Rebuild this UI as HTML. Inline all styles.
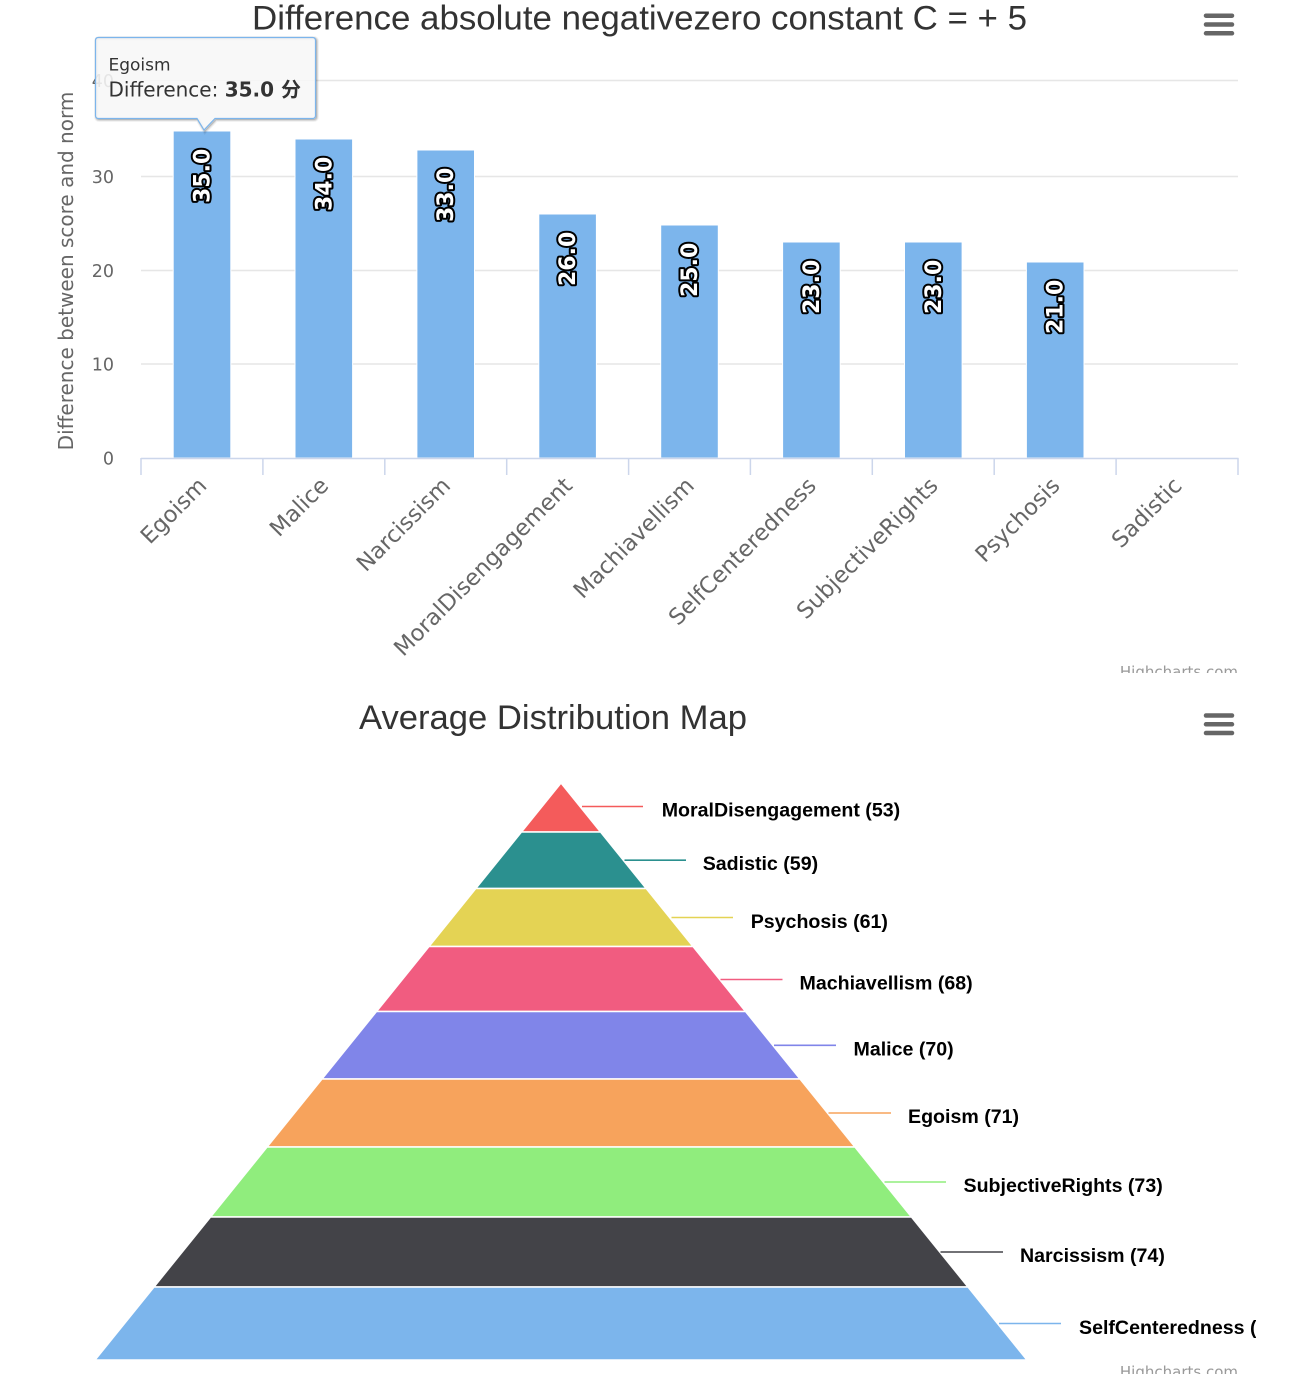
<!DOCTYPE html>
<html>
<head>
<meta charset="utf-8">
<style>
  html, body { margin: 0; padding: 0; background: #fff; }
  body { width: 1305px; height: 1374px; overflow: hidden; }
  svg { display: block; }
  .dv { font-family: "DejaVu Sans", "Liberation Sans", "Noto Sans CJK SC", sans-serif; }
  .lb { font-family: "Liberation Sans", "DejaVu Sans", sans-serif; }
</style>
</head>
<body>
<svg width="1305" height="1374" viewBox="0 0 1305 1374" xmlns="http://www.w3.org/2000/svg">
  <defs>
    <clipPath id="c2"><rect x="0" y="680" width="1256" height="700"/></clipPath>
  </defs>

  <!-- ============ CHART 1 ============ -->
  <text class="lb" x="639.5" y="29.5" text-anchor="middle" font-size="34.5" fill="#333333" textLength="775" lengthAdjust="spacingAndGlyphs">Difference absolute negativezero constant C = + 5</text>

  <!-- menu icon -->
  <g stroke="#666666" stroke-width="4.5" stroke-linecap="round">
    <line x1="1206" y1="15.7" x2="1232" y2="15.7"/>
    <line x1="1206" y1="24.5" x2="1232" y2="24.5"/>
    <line x1="1206" y1="33.3" x2="1232" y2="33.3"/>
  </g>

  <!-- gridlines -->
  <g stroke="#e6e6e6" stroke-width="1.5">
    <line x1="141" y1="80.5" x2="1238" y2="80.5"/>
    <line x1="141" y1="176.5" x2="1238" y2="176.5"/>
    <line x1="141" y1="270.5" x2="1238" y2="270.5"/>
    <line x1="141" y1="364" x2="1238" y2="364"/>
  </g>

  <!-- y tick labels -->
  <g class="dv" font-size="17.5" fill="#666666" text-anchor="end">
    <text x="114" y="87">40</text>
    <text x="114" y="183">30</text>
    <text x="114" y="277">20</text>
    <text x="114" y="370.5">10</text>
    <text x="114" y="464.5">0</text>
  </g>

  <!-- y axis title -->
  <text class="dv" transform="translate(73 271) rotate(-90)" x="0" y="0" text-anchor="middle" font-size="20" fill="#666666">Difference between score and norm</text>

  <!-- bars -->
  <g fill="#7cb5ec" stroke="#ffffff" stroke-width="1">
    <rect x="173.2" y="131" width="57.6" height="327"/>
    <rect x="295" y="139" width="57.6" height="319"/>
    <rect x="416.9" y="150" width="57.6" height="308"/>
    <rect x="538.8" y="214" width="57.6" height="244"/>
    <rect x="660.7" y="225" width="57.6" height="233"/>
    <rect x="782.6" y="242" width="57.6" height="216"/>
    <rect x="904.5" y="242" width="57.6" height="216"/>
    <rect x="1026.4" y="262" width="57.6" height="196"/>
  </g>

  <!-- data labels -->
  <g class="dv" font-size="22" font-weight="bold" fill="#ffffff" stroke="#000000" stroke-width="4" stroke-linejoin="round" paint-order="stroke" text-anchor="start">
    <text transform="translate(209.5 203) rotate(-90)">35.0</text>
    <text transform="translate(331.3 211) rotate(-90)">34.0</text>
    <text transform="translate(453.2 222) rotate(-90)">33.0</text>
    <text transform="translate(575.1 286) rotate(-90)">26.0</text>
    <text transform="translate(697 297) rotate(-90)">25.0</text>
    <text transform="translate(818.9 314) rotate(-90)">23.0</text>
    <text transform="translate(940.8 314) rotate(-90)">23.0</text>
    <text transform="translate(1062.7 334) rotate(-90)">21.0</text>
  </g>

  <!-- x axis -->
  <g stroke="#ccd6eb" stroke-width="1.5">
    <line x1="141" y1="458.5" x2="1238.5" y2="458.5"/>
    <line x1="141" y1="458" x2="141" y2="475"/>
    <line x1="262.9" y1="458" x2="262.9" y2="475"/>
    <line x1="384.8" y1="458" x2="384.8" y2="475"/>
    <line x1="506.7" y1="458" x2="506.7" y2="475"/>
    <line x1="628.6" y1="458" x2="628.6" y2="475"/>
    <line x1="750.4" y1="458" x2="750.4" y2="475"/>
    <line x1="872.3" y1="458" x2="872.3" y2="475"/>
    <line x1="994.2" y1="458" x2="994.2" y2="475"/>
    <line x1="1116.1" y1="458" x2="1116.1" y2="475"/>
    <line x1="1238" y1="458" x2="1238" y2="475"/>
  </g>

  <!-- x labels -->
  <g class="dv" font-size="22.5" fill="#666666" text-anchor="end">
    <text transform="translate(208 487) rotate(-45)">Egoism</text>
    <text transform="translate(329.8 487) rotate(-45)">Malice</text>
    <text transform="translate(451.7 487) rotate(-45)">Narcissism</text>
    <text transform="translate(573.6 487) rotate(-45)">MoralDisengagement</text>
    <text transform="translate(695.5 487) rotate(-45)">Machiavellism</text>
    <text transform="translate(817.4 487) rotate(-45)">SelfCenteredness</text>
    <text transform="translate(939.3 487) rotate(-45)">SubjectiveRights</text>
    <text transform="translate(1061.2 487) rotate(-45)">Psychosis</text>
    <text transform="translate(1183.1 487) rotate(-45)">Sadistic</text>
  </g>

  <!-- tooltip -->
  <g>
    <g fill="none" stroke="#000000" transform="translate(1 1)">
      <path stroke-opacity="0.05" stroke-width="5" d="M98.5 37.5 L312.5 37.5 Q315.5 37.5 315.5 40.5 L315.5 115.5 Q315.5 118.5 312.5 118.5 L215 118.5 L204 130 L197 118.5 L98.5 118.5 Q95.5 118.5 95.5 115.5 L95.5 40.5 Q95.5 37.5 98.5 37.5 Z"/>
      <path stroke-opacity="0.1" stroke-width="3" d="M98.5 37.5 L312.5 37.5 Q315.5 37.5 315.5 40.5 L315.5 115.5 Q315.5 118.5 312.5 118.5 L215 118.5 L204 130 L197 118.5 L98.5 118.5 Q95.5 118.5 95.5 115.5 L95.5 40.5 Q95.5 37.5 98.5 37.5 Z"/>
      <path stroke-opacity="0.15" stroke-width="1" d="M98.5 37.5 L312.5 37.5 Q315.5 37.5 315.5 40.5 L315.5 115.5 Q315.5 118.5 312.5 118.5 L215 118.5 L204 130 L197 118.5 L98.5 118.5 Q95.5 118.5 95.5 115.5 L95.5 40.5 Q95.5 37.5 98.5 37.5 Z"/>
    </g>
    <path fill="#f7f7f7" fill-opacity="0.88" stroke="#7cb5ec" stroke-width="1.2" d="M98.5 37.5 L312.5 37.5 Q315.5 37.5 315.5 40.5 L315.5 115.5 Q315.5 118.5 312.5 118.5 L215 118.5 L204 130 L197 118.5 L98.5 118.5 Q95.5 118.5 95.5 115.5 L95.5 40.5 Q95.5 37.5 98.5 37.5 Z"/>
    <text class="dv" x="108.5" y="70.7" font-size="17" fill="#333333">Egoism</text>
    <text class="dv" x="108.5" y="96.7" font-size="20" fill="#333333">Difference: <tspan font-weight="bold">35.0 分</tspan></text>
  </g>

  <!-- credits 1 (clipped) -->
  <text class="dv" x="1238" y="677" text-anchor="end" font-size="15" fill="#999999">Highcharts.com</text>
  <rect x="1000" y="673" width="305" height="20" fill="#ffffff"/>

  <!-- ============ CHART 2 ============ -->
  <text class="lb" x="553" y="729" text-anchor="middle" font-size="34" fill="#333333" textLength="388" lengthAdjust="spacingAndGlyphs">Average Distribution Map</text>

  <g stroke="#666666" stroke-width="4.5" stroke-linecap="round">
    <line x1="1206" y1="715.5" x2="1232" y2="715.5"/>
    <line x1="1206" y1="724.3" x2="1232" y2="724.3"/>
    <line x1="1206" y1="733" x2="1232" y2="733"/>
  </g>

  <!-- pyramid -->
  <g stroke="#ffffff" stroke-width="1.5" stroke-linejoin="round">
    <polygon fill="#f45b5b" points="561,783 600.57,832 521.43,832"/>
    <polygon fill="#2b908f" points="521.43,832 600.57,832 646.2,888.5 475.8,888.5"/>
    <polygon fill="#e4d354" points="475.8,888.5 646.2,888.5 693.04,946.5 428.96,946.5"/>
    <polygon fill="#f15c80" points="428.96,946.5 693.04,946.5 745.54,1011.5 376.46,1011.5"/>
    <polygon fill="#8085e9" points="376.46,1011.5 745.54,1011.5 800.05,1079 321.95,1079"/>
    <polygon fill="#f7a35c" points="321.95,1079 800.05,1079 854.97,1147 267.03,1147"/>
    <polygon fill="#90ed7d" points="267.03,1147 854.97,1147 911.5,1217 210.5,1217"/>
    <polygon fill="#434348" points="210.5,1217 911.5,1217 968.03,1287 153.97,1287"/>
    <polygon fill="#7cb5ec" points="153.97,1287 968.03,1287 1026.99,1360 95.01,1360"/>
  </g>

  <!-- connectors -->
  <g stroke-width="1.6">
    <line x1="582" y1="806.5" x2="643" y2="806.5" stroke="#f45b5b"/>
    <line x1="624.5" y1="860.2" x2="686" y2="860.2" stroke="#2b908f"/>
    <line x1="671.5" y1="917.5" x2="733" y2="917.5" stroke="#e4d354"/>
    <line x1="720.5" y1="979.5" x2="782.5" y2="979.5" stroke="#f15c80"/>
    <line x1="774" y1="1045.3" x2="836" y2="1045.3" stroke="#8085e9"/>
    <line x1="828.5" y1="1113" x2="891" y2="1113" stroke="#f7a35c"/>
    <line x1="884.5" y1="1182" x2="946" y2="1182" stroke="#90ed7d"/>
    <line x1="940.5" y1="1252" x2="1003" y2="1252" stroke="#434348"/>
    <line x1="999" y1="1323.5" x2="1061" y2="1323.5" stroke="#7cb5ec"/>
  </g>

  <!-- funnel labels -->
  <g class="lb" font-size="19.6" font-weight="bold" fill="#000000" clip-path="url(#c2)">
    <text x="661.7" y="816.7">MoralDisengagement (53)</text>
    <text x="702.7" y="870">Sadistic (59)</text>
    <text x="750.7" y="928">Psychosis (61)</text>
    <text x="799.5" y="989.5">Machiavellism (68)</text>
    <text x="853.5" y="1055.5">Malice (70)</text>
    <text x="908" y="1123">Egoism (71)</text>
    <text x="963.5" y="1192">SubjectiveRights (73)</text>
    <text x="1020" y="1262">Narcissism (74)</text>
    <text x="1079" y="1334">SelfCenteredness (77)</text>
  </g>

  <!-- credits 2 (clipped by viewport) -->
  <text class="dv" x="1238" y="1377" text-anchor="end" font-size="15" fill="#999999">Highcharts.com</text>
</svg>
</body>
</html>
